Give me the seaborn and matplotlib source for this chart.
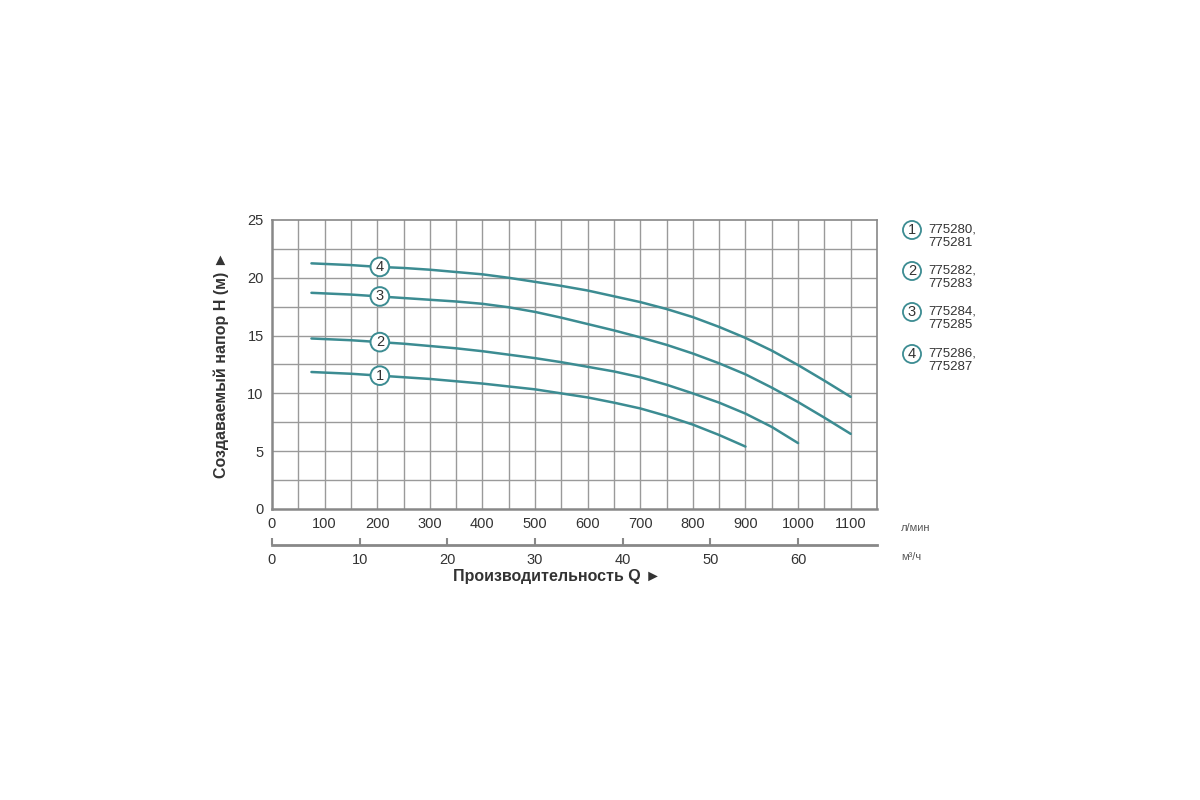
import pandas as pd
import seaborn as sns
import matplotlib.pyplot as plt

# Напорные характеристики насосов (Q в л/мин, H в м)
q1 = [75, 150, 200, 250, 300, 350, 400, 450, 500, 550, 600, 650, 700, 750, 800, 850, 900]
h1 = [11.85, 11.7, 11.55, 11.4, 11.25, 11.05, 10.85, 10.6, 10.35, 10.0, 9.65, 9.2, 8.7, 8.05,
      7.3, 6.4, 5.4]
q2 = [75, 150, 200, 250, 300, 350, 400, 450, 500, 550, 600, 650, 700, 750, 800, 850, 900,
      950, 1000]
h2 = [14.75, 14.6, 14.45, 14.3, 14.1, 13.9, 13.65, 13.35, 13.05, 12.7, 12.3, 11.9, 11.4, 10.75,
      10.0, 9.2, 8.25, 7.1, 5.7]
q3 = [75, 150, 200, 250, 300, 350, 400, 450, 500, 550, 600, 650, 700, 750, 800, 850, 900,
      950, 1000, 1050, 1100]
h3 = [18.7, 18.55, 18.4, 18.25, 18.1, 17.95, 17.75, 17.45, 17.05, 16.55, 16.0, 15.45, 14.85,
      14.2, 13.45, 12.6, 11.65, 10.5, 9.25, 7.9, 6.5]
q4 = [75, 150, 200, 250, 300, 350, 400, 450, 500, 550, 600, 650, 700, 750, 800, 850, 900,
      950, 1000, 1050, 1100]
h4 = [21.25, 21.1, 20.95, 20.85, 20.7, 20.5, 20.3, 20.0, 19.65, 19.3, 18.9, 18.4, 17.9, 17.3,
      16.6, 15.75, 14.8, 13.7, 12.45, 11.1, 9.7]

curve_ids = ["1", "2", "3", "4"]
models = ["775280,\n775281", "775282,\n775283", "775284,\n775285", "775286,\n775287"]
label_q = 205

xticks = [0, 100, 200, 300, 400, 500, 600, 700, 800, 900, 1000, 1100]
m3h_ticks = [0, 10, 20, 30, 40, 50, 60]
yticks = [0, 5, 10, 15, 20, 25]

frames = []
for cid, q, h in zip(curve_ids, [q1, q2, q3, q4], [h1, h2, h3, h4]):
    frames.append(pd.DataFrame({"Q": q, "H": h, "curve": cid}))
df = pd.concat(frames, ignore_index=True)

sns.set_style("white")
plt.rcParams['font.family'] = ['Liberation Sans', 'DejaVu Sans']

teal = "#3c8c92"
grid_c = "#9a9a9a"
text_c = "#333333"

fig = plt.figure(figsize=(12, 8), dpi=100)
ax = fig.add_axes([272 / 1200, 1 - 509 / 800, 605 / 1200, 289 / 800])

sns.lineplot(data=df, x="Q", y="H", units="curve", estimator=None,
             color=teal, lw=1.8, ax=ax, legend=False, sort=False)

# сетка
for v in range(50, 1150, 50):
    ax.axvline(v, color=grid_c, lw=1.0, zorder=0)
for v in [2.5 * i for i in range(1, 10)]:
    ax.axhline(v, color=grid_c, lw=1.0, zorder=0)

ax.set_xlim(0, 1150)
ax.set_ylim(0, 25)
ax.set_xticks(xticks)
ax.set_yticks(yticks)
ax.tick_params(length=0, labelsize=10.5, labelcolor=text_c, pad=6)
for s in ax.spines.values():
    s.set_color("#888888")
    s.set_linewidth(1.2)
ax.spines["bottom"].set_linewidth(1.8)
ax.spines["left"].set_linewidth(1.8)
ax.set_xlabel("")
ax.set_ylabel("Создаваемый напор H (м) ►", fontsize=11.5, fontweight="bold",
              color=text_c, labelpad=13)

# номера кривых
for cid, q, h in zip(curve_ids, [q1, q2, q3, q4], [h1, h2, h3, h4]):
    hy = h[2] + (h[3] - h[2]) * (label_q - q[2]) / (q[3] - q[2])
    ax.text(label_q, hy, cid, ha="center", va="center", fontsize=10.5,
            color=text_c, zorder=5,
            bbox=dict(boxstyle="circle,pad=0.16", fc="white", ec=teal, lw=1.4))

# вторая шкала, м³/ч
sec = ax.secondary_xaxis(-0.125, functions=(lambda x: x * 0.06, lambda x: x / 0.06))
sec.set_xticks(m3h_ticks)
sec.tick_params(direction="in", length=5, width=1.5, color="#888888",
                labelsize=10.5, labelcolor=text_c, pad=6)
sec.spines["bottom"].set_color("#888888")
sec.spines["bottom"].set_linewidth(2)

fig.text(557 / 1200, 1 - 577 / 800, "Производительность Q ►", ha="center", va="center",
         fontsize=11.5, fontweight="bold", color=text_c)
fig.text(901 / 1200, 1 - 528 / 800, "л/мин", ha="left", va="center", fontsize=8, color="#555555")
fig.text(901 / 1200, 1 - 557 / 800, "м³/ч", ha="left", va="center", fontsize=8, color="#555555")

# легенда
legend_y = [236, 277, 318, 360]
for cid, m, y in zip(curve_ids, models, legend_y):
    fig.text(912 / 1200, 1 - (y - 6) / 800, cid, ha="center", va="center", fontsize=10.5,
             color=text_c,
             bbox=dict(boxstyle="circle,pad=0.14", fc="white", ec=teal, lw=1.3))
    fig.text(928 / 1200, 1 - y / 800, m, ha="left", va="center", fontsize=9.5,
             color=text_c, linespacing=1.2)

fig.savefig("out.png", dpi=100, facecolor="white")
